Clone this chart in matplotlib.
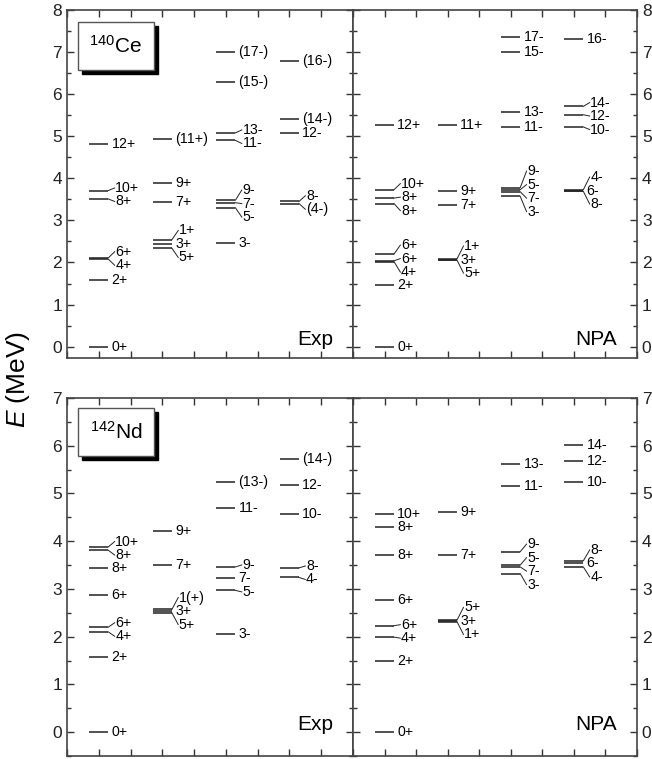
import numpy as np
import matplotlib
matplotlib.use('Agg')
import matplotlib.pyplot as plt
from matplotlib.patches import Rectangle
from matplotlib.ticker import MultipleLocator

plt.rcParams['font.family'] = ['Liberation Sans', 'DejaVu Sans']
plt.rcParams['mathtext.fontset'] = 'custom'
plt.rcParams['mathtext.rm'] = 'Liberation Sans'
plt.rcParams['mathtext.it'] = 'Liberation Sans:italic'

# 140Ce, experiment
ce_exp_col = [1, 1, 1, 1, 1, 1, 1, 2, 2, 2, 2, 2, 2, 3, 3, 3, 3, 3, 3, 3, 3, 4, 4, 4, 4, 4]
ce_exp_E = [0.00, 1.59, 2.08, 2.11, 3.51, 3.71, 4.82,
            2.34, 2.44, 2.54, 3.43, 3.89, 4.93,
            2.46, 3.30, 3.42, 3.48, 4.90, 5.08, 6.28, 7.00,
            3.40, 3.45, 5.08, 5.42, 6.78]
ce_exp_J = ['0+', '2+', '4+', '6+', '8+', '10+', '12+',
            '5+', '3+', '1+', '7+', '9+', '(11+)',
            '3-', '5-', '7-', '9-', '11-', '13-', '(15-)', '(17-)',
            '(4-)', '8-', '12-', '(14-)', '(16-)']

# 140Ce, NPA
ce_npa_col = [1, 1, 1, 1, 1, 1, 1, 1, 1, 2, 2, 2, 2, 2, 2, 3, 3, 3, 3, 3, 3, 3, 3, 4, 4, 4, 4, 4, 4, 4]
ce_npa_E = [0.00, 1.47, 2.02, 2.04, 2.20, 3.40, 3.53, 3.73, 5.27,
            2.05, 2.07, 2.09, 3.36, 3.69, 5.26,
            3.57, 3.68, 3.73, 3.78, 5.22, 5.57, 7.00, 7.37,
            3.69, 3.71, 3.73, 5.22, 5.51, 5.71, 7.31]
ce_npa_J = ['0+', '2+', '4+', '6+', '6+', '8+', '8+', '10+', '12+',
            '5+', '3+', '1+', '7+', '9+', '11+',
            '3-', '7-', '5-', '9-', '11-', '13-', '15-', '17-',
            '8-', '6-', '4-', '10-', '12-', '14-', '16-']

# 142Nd, experiment
nd_exp_col = [1, 1, 1, 1, 1, 1, 1, 1, 2, 2, 2, 2, 2, 3, 3, 3, 3, 3, 3, 4, 4, 4, 4, 4]
nd_exp_E = [0.00, 1.57, 2.10, 2.20, 2.88, 3.44, 3.81, 3.88,
            2.50, 2.54, 2.57, 3.51, 4.22,
            2.06, 2.97, 3.23, 3.46, 4.70, 5.23,
            3.24, 3.44, 4.58, 5.18, 5.72]
nd_exp_J = ['0+', '2+', '4+', '6+', '6+', '8+', '8+', '10+',
            '5+', '3+', '1(+)', '7+', '9+',
            '3-', '5-', '7-', '9-', '11-', '(13-)',
            '4-', '8-', '10-', '12-', '(14-)']

# 142Nd, NPA
nd_npa_col = [1, 1, 1, 1, 1, 1, 1, 1, 2, 2, 2, 2, 2, 3, 3, 3, 3, 3, 3, 4, 4, 4, 4, 4, 4]
nd_npa_E = [0.00, 1.50, 1.99, 2.23, 2.76, 3.71, 4.29, 4.57,
            2.31, 2.33, 2.35, 3.72, 4.62,
            3.32, 3.46, 3.50, 3.78, 5.16, 5.62,
            3.46, 3.55, 3.59, 5.23, 5.67, 6.02]
nd_npa_J = ['0+', '2+', '4+', '6+', '6+', '8+', '8+', '10+',
            '1+', '3+', '5+', '7+', '9+',
            '3-', '7-', '5-', '9-', '11-', '13-',
            '4-', '6-', '8-', '10-', '12-', '14-']


def spread(E, gap):
    # push labels apart so they are at least `gap` apart
    order = np.argsort(E, kind='stable')
    vals = np.asarray(E, dtype=float)[order]
    groups = [[i] for i in range(len(vals))]
    changed = True
    while changed:
        changed = False
        for k in range(len(groups) - 1):
            a, b = groups[k], groups[k + 1]
            top_a = vals[a].mean() + (len(a) - 1) / 2 * gap
            bot_b = vals[b].mean() - (len(b) - 1) / 2 * gap
            if bot_b - top_a < gap:
                groups[k] = a + b
                del groups[k + 1]
                changed = True
                break
    out = np.empty(len(vals))
    for g in groups:
        c = vals[g].mean()
        for j, i in enumerate(g):
            out[order[i]] = c + (j - (len(g) - 1) / 2) * gap
    return out


def draw_levels(ax, cols, E, J, gap):
    cols = np.array(cols)
    E = np.array(E)
    for c in np.unique(cols):
        idx = np.where(cols == c)[0]
        x0 = 2 * c - 1.3
        x1 = 2 * c - 0.7
        lab = spread(E[idx], gap)
        for i, ly in zip(idx, lab):
            ax.hlines(E[i], x0, x1, color='#222222', lw=1.1)
            if abs(ly - E[i]) < 0.02:
                ax.text(x1 + 0.1, E[i], J[i], fontsize=10.2, va='center', ha='left')
            else:
                ax.plot([x1, x1 + 0.2], [E[i], ly], color='#222222', lw=0.7)
                ax.text(x1 + 0.22, ly, J[i], fontsize=10.2, va='center', ha='left')


def style(ax, ylim, right):
    ax.set_xlim(0, 9)
    ax.set_ylim(*ylim)
    ax.xaxis.set_major_locator(MultipleLocator(1))
    ax.yaxis.set_major_locator(MultipleLocator(1))
    ax.yaxis.set_minor_locator(MultipleLocator(0.5))
    ax.tick_params(axis='both', which='both', direction='in', top=True, bottom=True,
                   left=True, right=True, labelbottom=False, labelsize=12.5,
                   labelleft=not right, labelright=right, colors='#333333', labelcolor='#222222')
    ax.tick_params(which='major', length=5, width=1)
    ax.tick_params(which='minor', length=3, width=1)
    for s in ax.spines.values():
        s.set_color('#444444')
        s.set_linewidth(1.2)


def nucleus_box(ax, y0, y1, txt):
    ax.add_patch(Rectangle((0.052, y0 - 0.012), 0.266, y1 - y0, transform=ax.transAxes,
                           facecolor='black', edgecolor='black', clip_on=False))
    ax.add_patch(Rectangle((0.038, y0), 0.266, y1 - y0, transform=ax.transAxes,
                           facecolor='white', edgecolor='#555555', lw=1.0, clip_on=False))
    ax.text(0.171, (y0 + y1) / 2, txt, transform=ax.transAxes, fontsize=15,
            ha='center', va='center')


fig = plt.figure(figsize=(6.52, 7.59), dpi=100)
L, M, R = 67 / 652, 353 / 652, 637 / 652
top_b, top_t = 1 - 358 / 759, 1 - 10 / 759
bot_b, bot_t = 1 - 756 / 759, 1 - 398 / 759

ax1 = fig.add_axes([L, top_b, M - L, top_t - top_b])
ax2 = fig.add_axes([M, top_b, R - M, top_t - top_b])
ax3 = fig.add_axes([L, bot_b, M - L, bot_t - bot_b])
ax4 = fig.add_axes([M, bot_b, R - M, bot_t - bot_b])

top_lim = (-0.27, 8)
bot_lim = (-0.5, 7)
px_top = 348 / (top_lim[1] - top_lim[0])
px_bot = 358 / (bot_lim[1] - bot_lim[0])
gap_px = 13.5

draw_levels(ax1, ce_exp_col, ce_exp_E, ce_exp_J, gap_px / px_top)
draw_levels(ax2, ce_npa_col, ce_npa_E, ce_npa_J, gap_px / px_top)
draw_levels(ax3, nd_exp_col, nd_exp_E, nd_exp_J, gap_px / px_bot)
draw_levels(ax4, nd_npa_col, nd_npa_E, nd_npa_J, gap_px / px_bot)

style(ax1, top_lim, False)
style(ax2, top_lim, True)
style(ax3, bot_lim, False)
style(ax4, bot_lim, True)

nucleus_box(ax1, 0.828, 0.966, r'$^{140}$Ce')
nucleus_box(ax3, 0.838, 0.972, r'$^{142}$Nd')

ax1.text(0.93, 0.037, 'Exp', transform=ax1.transAxes, fontsize=15, ha='right', va='baseline')
ax2.text(0.93, 0.037, 'NPA', transform=ax2.transAxes, fontsize=15, ha='right', va='baseline')
ax3.text(0.93, 0.072, 'Exp', transform=ax3.transAxes, fontsize=15, ha='right', va='baseline')
ax4.text(0.93, 0.072, 'NPA', transform=ax4.transAxes, fontsize=15, ha='right', va='baseline')

fig.text(0.028, 0.5, r'$E$ (MeV)', rotation=90, fontsize=19, ha='center', va='center')

fig.savefig('out.png', dpi=100)
